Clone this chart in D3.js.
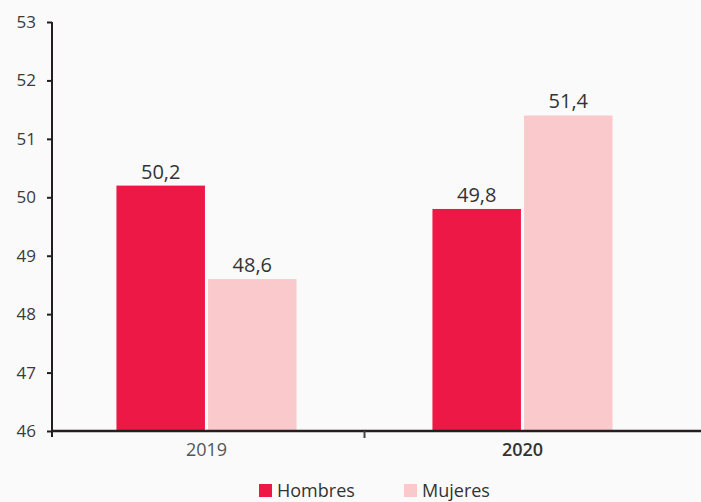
<!DOCTYPE html>
<html>
<head>
<meta charset="utf-8">
<script src="https://cdn.jsdelivr.net/npm/d3@7"></script>
<style>
  html, body { margin: 0; padding: 0; background: #fafafa; }
  svg { display: block; font-family: "Open Sans", "DejaVu Sans", sans-serif; }
</style>
</head>
<body>
<svg id="chart" width="701" height="502"></svg>
<script>
// Data
const years = ["2019", "2020"];
const series = ["Hombres", "Mujeres"];
const hombres = [50.2, 49.8];
const mujeres = [48.6, 51.4];
const yTicks = [46, 47, 48, 49, 50, 51, 52, 53];
const colors = ["#ee1846", "#f9c9cc"];

const rows = years.map((yr, i) => ({ year: yr, values: [hombres[i], mujeres[i]] }));

const svg = d3.select("#chart");
const W = 701;
const axisX = 52, baseY = 431, topY = 22;

const y = d3.scaleLinear().domain([46, 53]).range([baseY, topY]);
const x0 = d3.scaleBand().domain(years).range([48.5, 680.5])
  .paddingInner(0.43).paddingOuter(0.215);
const x1 = d3.scaleBand().domain(series).range([0, x0.bandwidth()]).paddingInner(0.034);
const color = d3.scaleOrdinal().domain(series).range(colors);

// Bars
const groups = svg.append("g").selectAll("g").data(rows).join("g")
  .attr("transform", d => `translate(${x0(d.year)},0)`);

groups.selectAll("rect")
  .data(d => d.values.map((v, i) => ({ key: series[i], value: v })))
  .join("rect")
  .attr("x", d => x1(d.key))
  .attr("width", x1.bandwidth())
  .attr("y", d => y(d.value))
  .attr("height", d => baseY - y(d.value))
  .attr("fill", d => color(d.key));

// Value labels
groups.selectAll("text")
  .data(d => d.values.map((v, i) => ({ key: series[i], value: v })))
  .join("text")
  .attr("x", d => x1(d.key) + x1.bandwidth() / 2)
  .attr("y", d => y(d.value) - 7)
  .attr("text-anchor", "middle")
  .attr("font-size", 20)
  .attr("fill", "#333")
  .text(d => d3.format(".1f")(d.value).replace(".", ","));

// Y axis
const yAxis = svg.append("g")
  .attr("transform", `translate(${axisX},0)`)
  .call(d3.axisLeft(y).tickValues(yTicks).tickFormat(d3.format("d"))
    .tickSize(5).tickPadding(11).tickSizeOuter(0));
yAxis.select(".domain").remove();
yAxis.selectAll(".tick line").attr("stroke", "#231f20").attr("stroke-width", 2);
yAxis.selectAll(".tick text").attr("font-size", 17).attr("fill", "#3a3a3a")
  .attr("font-family", "Open Sans, sans-serif");
yAxis.append("line")
  .attr("x1", 0).attr("x2", 0).attr("y1", topY).attr("y2", baseY + 6)
  .attr("stroke", "#231f20").attr("stroke-width", 2);

// X axis baseline, boundary ticks and category labels
svg.append("line")
  .attr("x1", axisX).attr("x2", W).attr("y1", baseY).attr("y2", baseY)
  .attr("stroke", "#231f20").attr("stroke-width", 2.5);

const boundaries = years.slice(1).map(yr => x0(yr) - x0.step() * x0.paddingInner() / 2);
svg.append("g").selectAll("line").data(boundaries).join("line")
  .attr("x1", d => d).attr("x2", d => d)
  .attr("y1", baseY).attr("y2", baseY + 7)
  .attr("stroke", "#444").attr("stroke-width", 2);

const xAxis = svg.append("g")
  .attr("transform", `translate(0,${baseY})`)
  .call(d3.axisBottom(x0).tickSize(0).tickPadding(12));
xAxis.select(".domain").remove();
xAxis.selectAll(".tick text")
  .attr("font-size", 18)
  .attr("font-family", "Open Sans, sans-serif")
  .attr("fill", (d, i) => i === 1 ? "#333" : "#555")
  .attr("font-weight", (d, i) => i === 1 ? 600 : 400);

// Legend
const legendX = [259, 404];
const legend = svg.append("g").selectAll("g").data(series).join("g")
  .attr("transform", (d, i) => `translate(${legendX[i]},484)`);
legend.append("rect").attr("width", 13).attr("height", 13).attr("fill", d => color(d));
legend.append("text").attr("x", 18).attr("y", 12.5)
  .attr("font-size", 18).attr("fill", "#333").text(d => d);
</script>
</body>
</html>
